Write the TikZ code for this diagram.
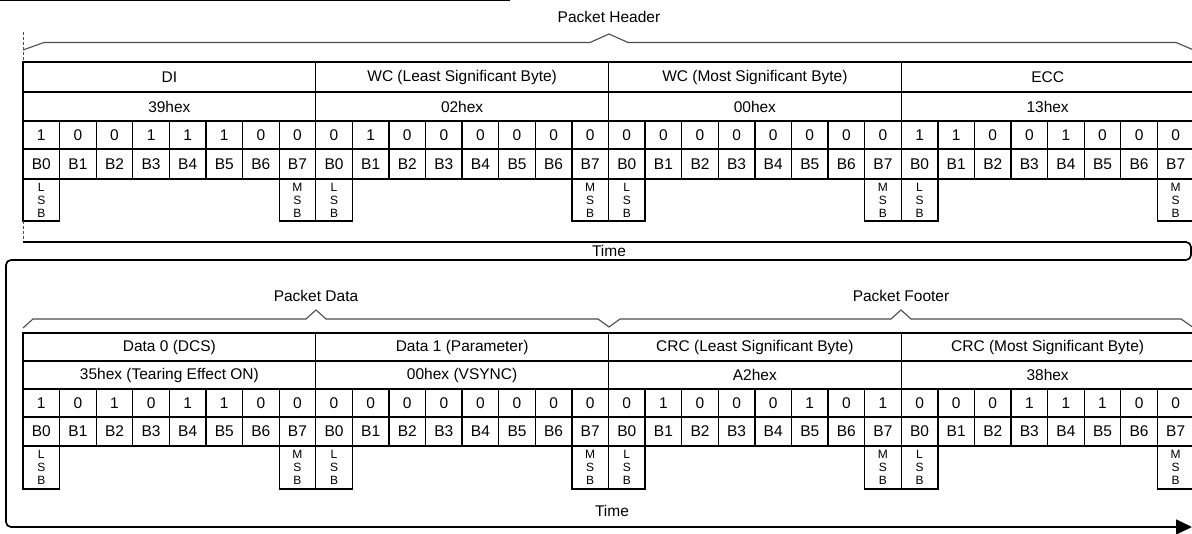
\documentclass[tikz,border=0pt]{standalone}
\usepackage{fontspec}
\setmainfont{Liberation Sans}
\usetikzlibrary{arrows.meta}
\begin{document}
\begin{tikzpicture}[x=1pt,y=-1pt,
  box/.style={draw=black, line width=1.3pt, inner sep=0pt, outer sep=0pt, anchor=north west, font=\fontsize{15.5}{17}\selectfont},
  bytebox/.style={box, minimum width=292.75pt},
  bitbox/.style={box, minimum width=36.594pt},
  sbbox/.style={box, minimum width=36.594pt, minimum height=42pt, align=center, font=\fontsize{12}{13}\selectfont},
  brace/.style={draw=black!70, line width=1.1pt},
  title/.style={font=\fontsize{15.5}{17}\selectfont, inner sep=0pt},
  timeline/.style={draw=black, line width=1.7pt, rounded corners=5pt},
  dashline/.style={draw=black!70, line width=0.8pt, dash pattern=on 3pt off 2pt}
]
\useasboundingbox (0,0) rectangle (1192,534);
% top rule
\draw[line width=1.5pt] (0,0.75) -- (510,0.75);

% ================= Header =================
\node[title] (hdr) at (609,17) {Packet Header};
\draw[brace] (23,50) -- (44,42.5) -- (590,42.5) -- (609,34) -- (628,42.5) -- (1176,42.5) -- (1196,51);
\foreach \lab/\hex [count=\k from 0] in {DI/39hex, WC (Least Significant Byte)/02hex, WC (Most Significant Byte)/00hex, ECC/13hex}{
  \node[bytebox, minimum height=30pt] (H-lab-\k) at ({23+292.75*\k},62) {\lab};
  \node[bytebox, minimum height=29pt] (H-hex-\k) at ({23+292.75*\k},92) {\hex};
  \node[sbbox] (H-lsb-\k) at ({23+292.75*\k},179) {L\\S\\B};
  \node[sbbox] (H-msb-\k) at ({23+292.75*\k+7*36.594},179) {M\\S\\B};
}
\foreach \b [count=\j from 0] in {1,0,0,1,1,1,0,0, 0,1,0,0,0,0,0,0, 0,0,0,0,0,0,0,0, 1,1,0,0,1,0,0,0}{
  \pgfmathtruncatemacro\m{mod(\j,8)}
  \node[bitbox, minimum height=28pt] (H-bit-\j) at ({23+36.594*\j},121) {\b};
  \node[bitbox, minimum height=30pt] (H-B-\j) at ({23+36.594*\j},149) {B\m};
}
\coordinate (hd1) at (23,32);
\coordinate (t0) at (23,242);
\coordinate (t1) at (1192,527);
\draw[dashline] (hd1) -- (H-lab-0.north west);
\draw[dashline] (H-lsb-0.south west) -- (t0);
\node[title] (time1) at (609,251) {Time};

% time line (wraps)
\draw[timeline, -{Triangle[length=16pt,width=15pt]}] (t0) -- (1191,242) -- (1191,260) -- (6,260) -- (6,527) -- (t1);

% ================= Data / Footer =================
\node[title] (pdat) at (316,296) {Packet Data};
\node[title] (pfoot) at (901,296) {Packet Footer};
\draw[brace] (23,328) -- (33,319) -- (306,319) -- (316,310) -- (326,319) -- (598,319) -- (609,327) -- (620,319) -- (891,319) -- (901,310) -- (911,319) -- (1181,319) -- (1194,328);
\foreach \lab/\hex [count=\k from 0] in {Data 0 (DCS)/35hex (Tearing Effect ON), Data 1 (Parameter)/00hex (VSYNC), CRC (Least Significant Byte)/A2hex, CRC (Most Significant Byte)/38hex}{
  \node[bytebox, minimum height=28pt] (D-lab-\k) at ({23+292.75*\k},333) {\lab};
  \node[bytebox, minimum height=28pt] (D-hex-\k) at ({23+292.75*\k},361) {\hex};
  \node[sbbox, minimum height=43pt] (D-lsb-\k) at ({23+292.75*\k},446) {L\\S\\B};
  \node[sbbox, minimum height=43pt] (D-msb-\k) at ({23+292.75*\k+7*36.594},446) {M\\S\\B};
}
\foreach \b [count=\j from 0] in {1,0,1,0,1,1,0,0, 0,0,0,0,0,0,0,0, 0,1,0,0,0,1,0,1, 0,0,0,1,1,1,0,0}{
  \pgfmathtruncatemacro\m{mod(\j,8)}
  \node[bitbox, minimum height=28pt] (D-bit-\j) at ({23+36.594*\j},389) {\b};
  \node[bitbox, minimum height=29pt] (D-B-\j) at ({23+36.594*\j},417) {B\m};
}
\node[title] (time2) at (612,511) {Time};
\end{tikzpicture}
\end{document}
